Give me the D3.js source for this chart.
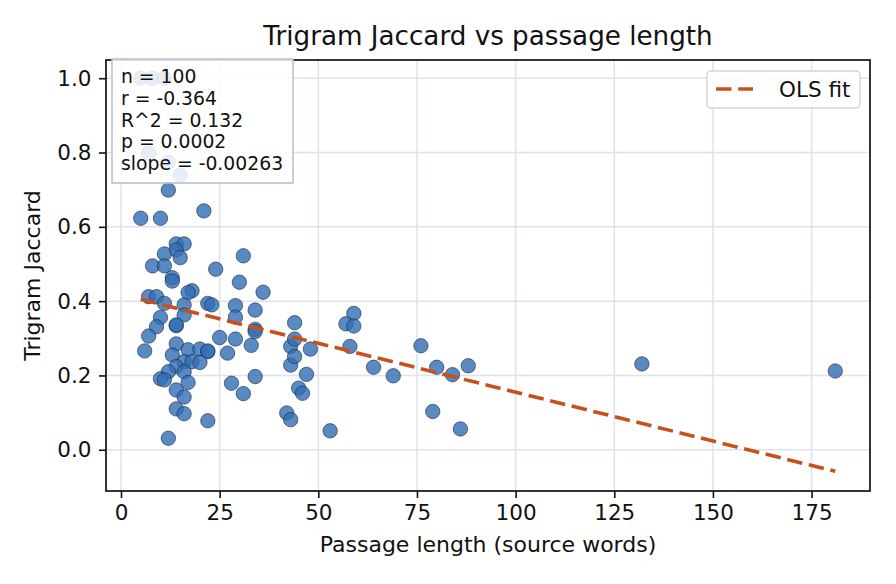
<!DOCTYPE html>
<html>
<head>
<meta charset="utf-8">
<script src="https://cdn.jsdelivr.net/npm/d3@7"></script>
<style>
  body { margin: 0; background: #fff; }
  text { font-family: "DejaVu Sans", sans-serif; fill: #111; }
</style>
</head>
<body>
<script>
const width = 896
const height = 584
const margin = { top: 60, right: 26, bottom: 93, left: 106 }

// passage length (source words) and trigram Jaccard
const lengths = [5, 8, 11, 7, 12, 15, 12, 5, 10, 21, 14, 16, 14, 11, 15, 8, 11, 24, 13, 13,
  18, 17, 7, 9, 11, 16, 22, 23, 10, 16, 31, 30, 36, 29, 34, 29, 34, 34, 44, 25,
  29, 33, 27, 43, 44, 43, 44, 34, 28, 31, 45, 46, 42, 43, 22, 9, 14, 14, 7, 6,
  14, 13, 17, 20, 22, 22, 16, 18, 20, 14, 16, 12, 10, 11, 17, 14, 16, 14, 16, 12,
  48, 47, 53, 59, 57, 59, 58, 64, 69, 76, 80, 84, 88, 79, 86, 132, 181]
const jaccard = [1.0, 1.0, 1.0, 0.798, 0.774, 0.739, 0.699, 0.623, 0.623, 0.643, 0.554, 0.554, 0.538, 0.527, 0.517, 0.495, 0.495, 0.486, 0.463, 0.454,
  0.428, 0.423, 0.412, 0.412, 0.394, 0.39, 0.394, 0.39, 0.356, 0.363, 0.522, 0.451, 0.424, 0.388, 0.376, 0.357, 0.324, 0.318, 0.342, 0.302,
  0.298, 0.281, 0.26, 0.278, 0.298, 0.228, 0.251, 0.197, 0.179, 0.151, 0.166, 0.152, 0.099, 0.081, 0.078, 0.331, 0.334, 0.336, 0.306, 0.266,
  0.285, 0.255, 0.269, 0.271, 0.264, 0.266, 0.237, 0.237, 0.235, 0.224, 0.21, 0.21, 0.191, 0.188, 0.181, 0.161, 0.142, 0.11, 0.097, 0.031,
  0.271, 0.203, 0.051, 0.367, 0.339, 0.333, 0.278, 0.222, 0.199, 0.28, 0.222, 0.202, 0.226, 0.103, 0.056, 0.231, 0.212]

const xTicks = [0, 25, 50, 75, 100, 125, 150, 175]
const yTicks = [0.0, 0.2, 0.4, 0.6, 0.8, 1.0]

// fit shown in the chart
const fitSlope = -0.00263
const fitIntercept = 0.418
const statLines = ['n = 100', 'r = -0.364', 'R^2 = 0.132', 'p = 0.0002', 'slope = -0.00263']

const points = lengths.map((d, i) => ({ x: d, y: jaccard[i] }))

const x = d3.scaleLinear().domain([-3.8, 189.8]).range([margin.left, width - margin.right])
const y = d3.scaleLinear().domain([-0.111, 1.049]).range([height - margin.bottom, margin.top])

const svg = d3.select('body').append('svg')
  .attr('width', width)
  .attr('height', height)

const x0 = margin.left, x1 = width - margin.right
const y0 = margin.top, y1 = height - margin.bottom
const fitColor = '#c9501c'

// grid
svg.append('g').selectAll('line').data(xTicks).join('line')
  .attr('x1', d => x(d)).attr('x2', d => x(d))
  .attr('y1', y0).attr('y2', y1)
  .attr('stroke', '#dde3ec').attr('stroke-width', 1.5)
svg.append('g').selectAll('line').data(yTicks).join('line')
  .attr('y1', d => y(d)).attr('y2', d => y(d))
  .attr('x1', x0).attr('x2', x1)
  .attr('stroke', '#dde3ec').attr('stroke-width', 1.5)

// points
svg.append('g').selectAll('circle').data(points).join('circle')
  .attr('cx', d => x(d.x))
  .attr('cy', d => y(d.y))
  .attr('r', 7.2)
  .attr('fill', '#316db5')
  .attr('fill-opacity', 0.8)
  .attr('stroke', '#17263a')
  .attr('stroke-opacity', 0.85)
  .attr('stroke-width', 0.7)

// OLS line across the data range
const xr = d3.extent(lengths)
const line = d3.line().x(d => x(d)).y(d => y(fitIntercept + fitSlope * d))
svg.append('path')
  .attr('d', line(xr))
  .attr('fill', 'none')
  .attr('stroke', fitColor)
  .attr('stroke-width', 3.6)
  .attr('stroke-dasharray', '15.5,6.7')

// axes
const xAxis = svg.append('g')
  .attr('transform', `translate(0,${y1})`)
  .call(d3.axisBottom(x).tickValues(xTicks).tickSize(7).tickPadding(7).tickFormat(d3.format('d')))
const yAxis = svg.append('g')
  .attr('transform', `translate(${x0},0)`)
  .call(d3.axisLeft(y).tickValues(yTicks).tickSize(7).tickPadding(7.5).tickFormat(d3.format('.1f')))
for (const ax of [xAxis, yAxis]) {
  ax.select('.domain').remove()
  ax.selectAll('.tick line').attr('stroke', '#111').attr('stroke-width', 1.6)
  ax.selectAll('.tick text').attr('font-size', 21.5).attr('font-family', '"DejaVu Sans", sans-serif').attr('fill', '#111')
}

svg.append('rect')
  .attr('x', x0).attr('y', y0)
  .attr('width', x1 - x0).attr('height', y1 - y0)
  .attr('fill', 'none').attr('stroke', '#111').attr('stroke-width', 1.7)

// stats box
const sb = svg.append('g')
sb.append('rect')
  .attr('x', 112).attr('y', 59).attr('width', 181).attr('height', 124)
  .attr('fill', '#fff').attr('fill-opacity', 0.85)
  .attr('stroke', '#b7c3d2').attr('stroke-width', 1.6)
sb.selectAll('text').data(statLines).join('text')
  .attr('x', 121)
  .attr('y', (d, i) => 83 + i * 21.75)
  .attr('font-size', 18.8)
  .text(d => d)

// legend
const lg = svg.append('g')
lg.append('rect')
  .attr('x', 707).attr('y', 71).attr('width', 153).attr('height', 37).attr('rx', 4)
  .attr('fill', '#fff').attr('fill-opacity', 0.85)
  .attr('stroke', '#d4d4d4').attr('stroke-width', 1.4)
lg.append('line')
  .attr('x1', 716).attr('x2', 753).attr('y1', 89).attr('y2', 89)
  .attr('stroke', fitColor).attr('stroke-width', 3.6)
  .attr('stroke-dasharray', '15.5,6.7')
lg.append('text').attr('x', 779).attr('y', 97).attr('font-size', 21.5).text('OLS fit')

// titles
svg.append('text')
  .attr('x', (x0 + x1) / 2).attr('y', 45)
  .attr('text-anchor', 'middle').attr('font-size', 26.2)
  .text('Trigram Jaccard vs passage length')
svg.append('text')
  .attr('x', (x0 + x1) / 2).attr('y', 552)
  .attr('text-anchor', 'middle').attr('font-size', 22)
  .text('Passage length (source words)')
svg.append('text')
  .attr('transform', `translate(40,${(y0 + y1) / 2}) rotate(-90)`)
  .attr('text-anchor', 'middle').attr('font-size', 22)
  .text('Trigram Jaccard')
</script>
</body>
</html>
